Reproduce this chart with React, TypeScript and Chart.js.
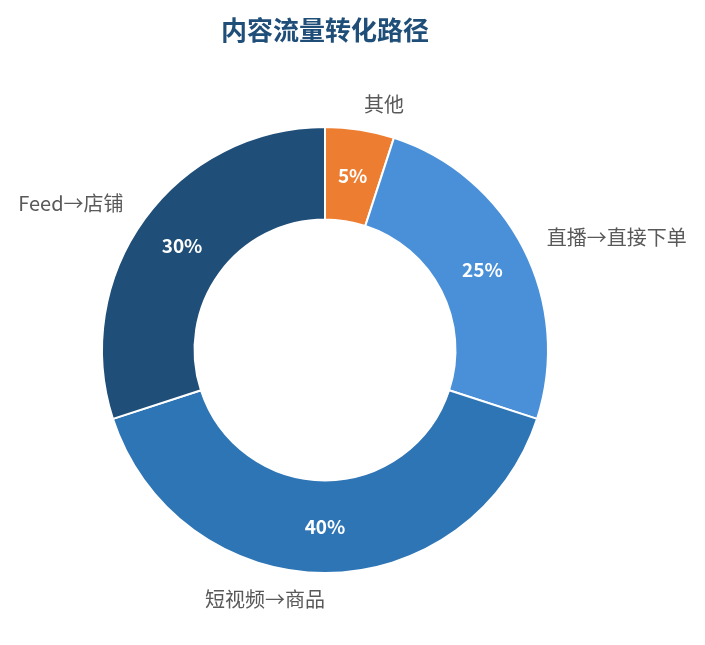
import React, { useEffect, useRef } from "react";
import { Chart, registerables, Plugin } from "chart.js";

Chart.register(...registerables);

// data
const categories = ["其他", "直播→直接下单", "短视频→商品", "Feed→店铺"];
const shares = [5, 25, 40, 30];
const sliceColors = ["#ED7D31", "#4A90D9", "#2E75B6", "#1F4E79"];

const FONT = "'Noto Sans CJK SC', 'Noto Sans', sans-serif";

// draws the percentage inside each slice and the name outside
const sliceLabels: Plugin<"doughnut"> = {
    id: "sliceLabels",
    afterDatasetsDraw(chart) {
        const ctx = chart.ctx;
        const meta = chart.getDatasetMeta(0);
        meta.data.forEach((el, i) => {
            const arc = el.getProps(["x", "y", "startAngle", "endAngle", "innerRadius", "outerRadius"], true) as any;
            const mid = (arc.startAngle + arc.endAngle) / 2;
            const rIn = (arc.innerRadius + arc.outerRadius) / 2;
            ctx.save();
            ctx.fillStyle = "#ffffff";
            ctx.font = `bold 19px ${FONT}`;
            ctx.textAlign = "center";
            ctx.textBaseline = "middle";
            ctx.fillText(`${shares[i]}%`, arc.x + Math.cos(mid) * rIn, arc.y + Math.sin(mid) * rIn);

            const rOut = arc.outerRadius + 26;
            const lx = arc.x + Math.cos(mid) * rOut;
            const ly = arc.y + Math.sin(mid) * rOut;
            ctx.fillStyle = "#595959";
            ctx.font = `20px ${FONT}`;
            ctx.textAlign = lx > arc.x + 1 ? "left" : "right";
            ctx.fillText(categories[i], lx, ly);
            ctx.restore();
        });
    },
};

const App: React.FC = () => {
    const canvasRef = useRef<HTMLCanvasElement | null>(null);
    const chartRef = useRef<Chart<"doughnut"> | null>(null);

    useEffect(() => {
        if (!canvasRef.current) return;
        if (chartRef.current) chartRef.current.destroy();

        chartRef.current = new Chart(canvasRef.current, {
            type: "doughnut",
            data: {
                labels: categories,
                datasets: [
                    {
                        data: shares,
                        backgroundColor: sliceColors,
                        borderColor: "#ffffff",
                        borderWidth: 2,
                    },
                ],
            },
            options: {
                responsive: false,
                animation: false,
                cutout: "58.5%",
                layout: { padding: { left: 0, right: 55, top: 0, bottom: 63 } },
                plugins: {
                    legend: { display: false },
                    tooltip: { enabled: false },
                    title: {
                        display: true,
                        text: "内容流量转化路径",
                        color: "#1F4E79",
                        font: { family: FONT, size: 26, weight: "bold" },
                        padding: { top: 6.4, bottom: 80.4 },
                    },
                },
            },
            plugins: [sliceLabels],
        });

        return () => {
            if (chartRef.current) {
                chartRef.current.destroy();
                chartRef.current = null;
            }
        };
    }, []);

    return (
        <div style={{ width: 689, height: 629 }}>
            <canvas ref={canvasRef} width={689} height={629} style={{ width: 689, height: 629 }} />
        </div>
    );
};

export default App;
